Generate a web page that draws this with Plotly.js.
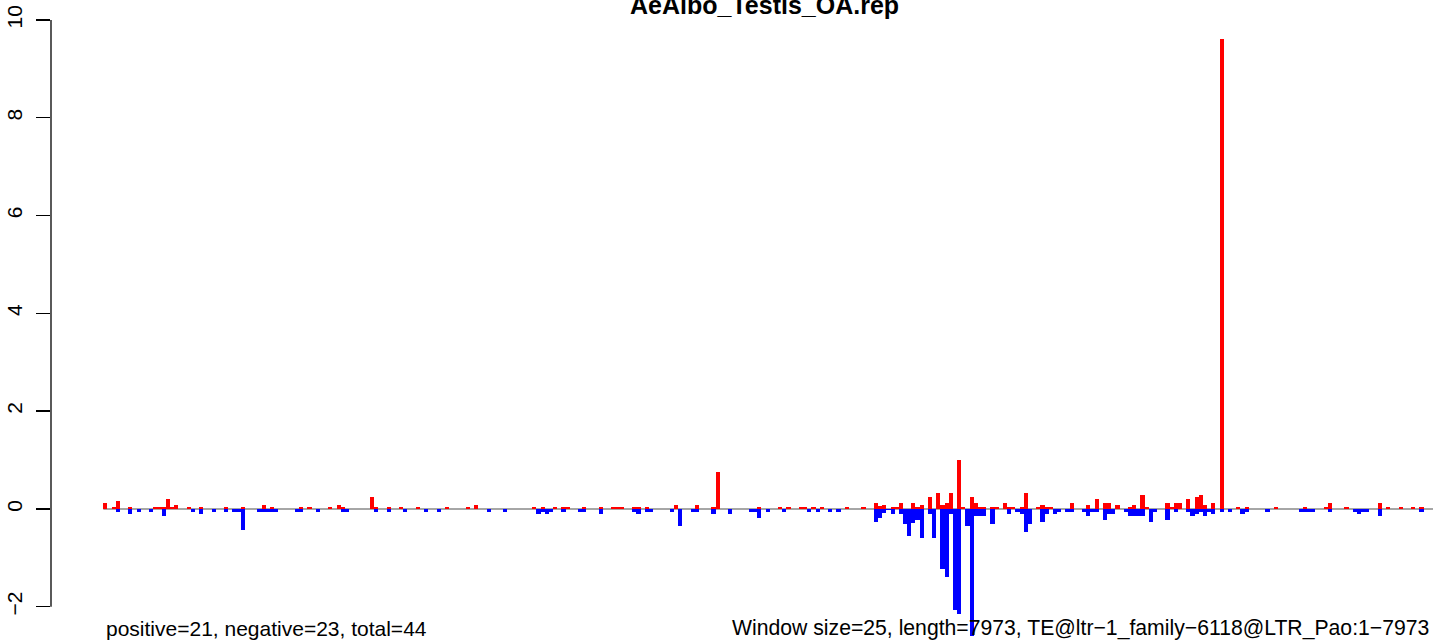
<!DOCTYPE html>
<html>
<head>
<meta charset="utf-8">
<script src="https://cdn.plot.ly/plotly-3.0.1.min.js"></script>
<style>html,body{margin:0;padding:0;background:#fff;}#chart{width:1433px;height:641px;}</style>
</head>
<body>
<div id="chart"></div>
<script>
// Window indices (window size = 25 bp) and values
var posIdx = [0,2,3,6,12,13,14,15,16,17,20,23,29,33,38,40,47,49,54,56,57,64,65,68,71,75,82,87,89,103,105,108,110,111,115,119,122,123,124,127,128,130,137,142,146,147,157,162,164,167,168,170,172,178,182,185,186,187,189,190,191,194,195,196,198,200,201,202,203,205,206,208,209,210,211,213,214,216,217,218,220,221,224,225,226,227,232,236,238,240,241,243,246,247,249,250,255,256,257,258,260,262,263,264,266,268,272,274,281,288,293,294,298,306,308,311,314,316];
var posVal = [0.12,0.04,0.16,0.04,0.04,0.04,0.04,0.20,0.04,0.08,0.04,0.04,0.04,0.04,0.08,0.04,0.04,0.04,0.04,0.08,0.04,0.24,0.04,0.04,0.04,0.04,0.04,0.04,0.08,0.04,0.04,0.04,0.04,0.04,0.04,0.04,0.04,0.04,0.04,0.04,0.04,0.04,0.08,0.08,0.04,0.76,0.04,0.04,0.04,0.04,0.04,0.04,0.04,0.04,0.04,0.12,0.06,0.08,0.04,0.04,0.12,0.12,0.04,0.08,0.24,0.33,0.08,0.12,0.33,1.00,0.04,0.24,0.12,0.04,0.04,0.04,0.04,0.12,0.04,0.04,0.04,0.33,0.04,0.08,0.04,0.04,0.12,0.08,0.20,0.12,0.12,0.08,0.04,0.08,0.29,0.04,0.12,0.04,0.12,0.12,0.20,0.24,0.29,0.08,0.12,9.61,0.04,0.04,0.04,0.04,0.04,0.12,0.04,0.12,0.04,0.04,0.04,0.04];
var negIdx = [3,6,8,11,14,21,23,26,29,31,32,33,37,38,39,40,41,46,47,51,57,58,65,68,72,77,80,92,96,104,105,106,107,110,114,115,119,127,128,130,131,136,138,141,142,146,150,155,156,157,159,163,169,171,174,176,185,186,187,188,189,191,192,193,194,195,196,198,199,201,202,203,204,205,207,208,209,210,211,213,217,219,220,221,222,225,226,228,229,231,232,235,236,237,238,240,241,242,245,246,247,248,249,251,252,255,257,260,261,262,263,264,265,266,268,270,273,274,279,287,288,289,290,294,300,301,302,303,306,316];
var negVal = [-0.06,-0.10,-0.06,-0.06,-0.14,-0.06,-0.10,-0.06,-0.06,-0.06,-0.06,-0.43,-0.06,-0.06,-0.06,-0.06,-0.06,-0.06,-0.06,-0.06,-0.06,-0.06,-0.06,-0.06,-0.06,-0.06,-0.06,-0.06,-0.06,-0.10,-0.06,-0.10,-0.06,-0.06,-0.06,-0.06,-0.10,-0.06,-0.10,-0.06,-0.06,-0.06,-0.35,-0.06,-0.06,-0.10,-0.10,-0.06,-0.06,-0.18,-0.06,-0.06,-0.06,-0.06,-0.06,-0.06,-0.26,-0.18,-0.08,-0.03,-0.10,-0.10,-0.30,-0.55,-0.29,-0.22,-0.59,-0.10,-0.59,-1.23,-1.39,-0.10,-2.06,-2.15,-0.35,-2.60,-0.14,-0.14,-0.14,-0.31,-0.10,-0.06,-0.10,-0.47,-0.31,-0.27,-0.10,-0.10,-0.06,-0.06,-0.06,-0.06,-0.14,-0.06,-0.06,-0.22,-0.10,-0.10,-0.06,-0.14,-0.14,-0.14,-0.14,-0.27,-0.06,-0.22,-0.06,-0.06,-0.14,-0.10,-0.06,-0.14,-0.06,-0.10,-0.06,-0.06,-0.10,-0.06,-0.06,-0.06,-0.06,-0.06,-0.06,-0.06,-0.06,-0.10,-0.06,-0.06,-0.14,-0.06];
var yTicks = [-2, 0, 2, 4, 6, 8, 10];
var titleText = "AeAlbo_Testis_OA.rep";
var leftNote = "positive=21, negative=23, total=44";
var rightNote = "Window size=25, length=7973, TE@ltr\u22121_family\u22126118@LTR_Pao:1\u22127973";

var FONT = "Liberation Sans, Arial, Helvetica, sans-serif";

var traces = [
  {type: "bar", x: posIdx, y: posVal, width: 1, marker: {color: "#FF0000", line: {width: 0}}, hoverinfo: "x+y"},
  {type: "bar", x: negIdx, y: negVal, width: 1, marker: {color: "#0000FF", line: {width: 0}}, hoverinfo: "x+y"}
];

var layout = {
  width: 1433, height: 641,
  margin: {l: 51, r: 0, t: 15, b: 0, pad: 0},
  paper_bgcolor: "#ffffff", plot_bgcolor: "#ffffff",
  showlegend: false,
  barmode: "overlay",
  bargap: 0,
  xaxis: {range: [-13.06, 318.75], visible: false, fixedrange: true},
  yaxis: {
    range: [-2.7, 10.1], showgrid: false, zeroline: false, showline: false,
    tickvals: yTicks, ticktext: yTicks.map(function(v){return v < 0 ? "\u2212" + Math.abs(v) : String(v);}),
    ticks: "outside", ticklen: 14, tickwidth: 1.3, tickcolor: "#000",
    tickangle: -90, ticklabelstandoff: 6,
    tickfont: {family: FONT, size: 21, color: "#000"}
  },
  shapes: [
    {type: "line", xref: "x", yref: "y", x0: -0.5, x1: 330, y0: 0, y1: 0, line: {color: "#a6a6a6", width: 2}, layer: "below"},
    {type: "line", xref: "paper", yref: "y", x0: 0, x1: 0, y0: -2, y1: 10, line: {color: "#000", width: 1.3}, layer: "above"}
  ],
  annotations: [
    {text: "<b>" + titleText + "</b>", xref: "paper", yref: "paper", x: 0.516, y: 0.9904, xanchor: "center", yanchor: "bottom", showarrow: false, font: {family: FONT, size: 25, color: "#000"}},
    {text: leftNote, xref: "paper", yref: "paper", x: 0.0384, y: -0.0018, xanchor: "left", yanchor: "bottom", showarrow: false, font: {family: FONT, size: 21, color: "#000"}},
    {text: rightNote, xref: "paper", yref: "paper", x: 0.9986, y: -0.0018, xanchor: "right", yanchor: "bottom", showarrow: false, font: {family: FONT, size: 21.2, color: "#000"}}
  ]
};

Plotly.newPlot("chart", traces, layout, {displayModeBar: false, staticPlot: true});
</script>
</body>
</html>
